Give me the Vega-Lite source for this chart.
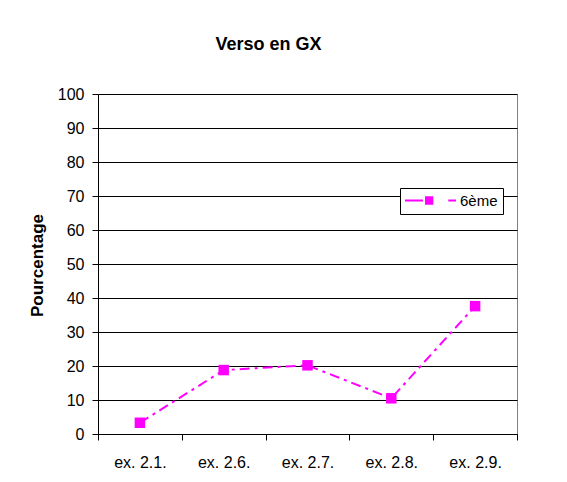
{
  "$schema": "https://vega.github.io/schema/vega-lite/v6.json",
  "width": 419,
  "height": 340,
  "autosize": {"type": "none"},
  "padding": {"left": 98, "top": 94, "right": 50, "bottom": 48},
  "background": "white",
  "title": {
    "text": "Verso en GX",
    "font": "Liberation Sans",
    "fontSize": 18,
    "fontWeight": "bold",
    "color": "black",
    "anchor": "middle",
    "dx": -39,
    "offset": 32
  },
  "data": {
    "values": [
      {"exercice": "ex. 2.1.", "pourcentage": 3.3, "classe": "6ème"},
      {"exercice": "ex. 2.6.", "pourcentage": 18.8, "classe": "6ème"},
      {"exercice": "ex. 2.7.", "pourcentage": 20.2, "classe": "6ème"},
      {"exercice": "ex. 2.8.", "pourcentage": 10.5, "classe": "6ème"},
      {"exercice": "ex. 2.9.", "pourcentage": 37.6, "classe": "6ème"}
    ]
  },
  "encoding": {
    "x": {
      "field": "exercice",
      "type": "nominal",
      "sort": null,
      "scale": {"type": "band", "paddingInner": 0, "paddingOuter": 0},
      "axis": {
        "title": null,
        "labelAngle": 0,
        "tickBand": "extent",
        "labelFont": "Liberation Sans",
        "labelFontSize": 16,
        "labelColor": "black",
        "labelPadding": 14,
        "tickColor": "black",
        "tickSize": 6,
        "domainColor": "black",
        "grid": false
      }
    },
    "y": {
      "field": "pourcentage",
      "type": "quantitative",
      "scale": {"domain": [0, 100], "nice": false},
      "axis": {
        "title": "Pourcentage",
        "titleFont": "Liberation Sans",
        "titleFontSize": 17,
        "titleFontWeight": "bold",
        "titleColor": "black",
        "titleX": -61,
        "titleY": 171,
        "titleBaseline": "middle",
        "titleAngle": -90,
        "values": [0, 10, 20, 30, 40, 50, 60, 70, 80, 90, 100],
        "labelFont": "Liberation Sans",
        "labelFontSize": 16,
        "labelColor": "black",
        "labelPadding": 8,
        "tickColor": "black",
        "tickSize": 6,
        "domainColor": "black",
        "grid": true,
        "gridColor": "black",
        "gridOpacity": 1,
        "gridWidth": 1
      }
    },
    "color": {
      "field": "classe",
      "type": "nominal",
      "scale": {"range": ["#ff00ff"]},
      "legend": {
        "title": null,
        "orient": "none",
        "legendX": 302,
        "legendY": 94,
        "padding": 5,
        "strokeColor": "black",
        "fillColor": "white",
        "cornerRadius": 0,
        "labelFont": "Liberation Sans",
        "labelFontSize": 15,
        "labelColor": "black",
        "labelOffset": 40,
        "symbolSize": 225,
        "symbolType": "M -1 -0.133 H 1.4 V 0.133 H -1 Z M 1.667 -0.553 H 2.773 V 0.553 H 1.667 Z M 4.773 -0.133 H 5.8 V 0.133 H 4.773 Z",
        "symbolFillColor": "#ff00ff",
        "symbolStrokeWidth": 0
      }
    }
  },
  "layer": [
    {
      "mark": {"type": "line", "strokeWidth": 2, "strokeDash": [10, 5, 3, 5]}
    },
    {
      "mark": {"type": "point", "shape": "square", "filled": true, "size": 110, "opacity": 1}
    }
  ],
  "config": {
    "view": {"stroke": "#808080", "strokeWidth": 1}
  }
}
